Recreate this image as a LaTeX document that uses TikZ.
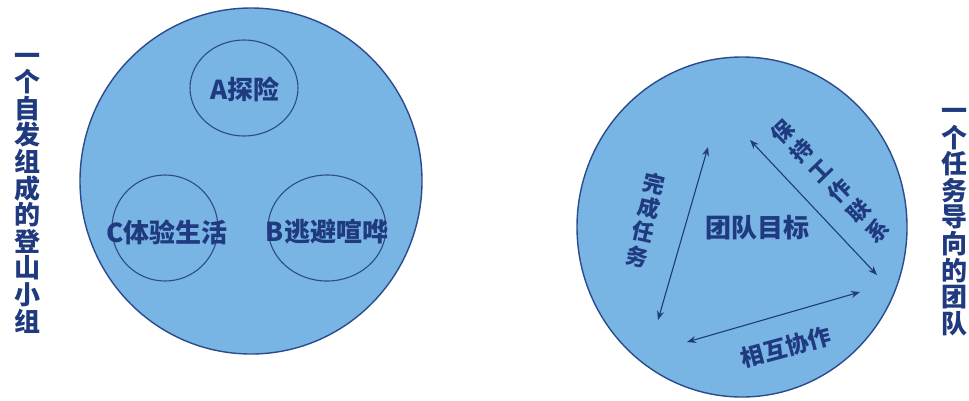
\documentclass[tikz,border=0pt]{standalone}
\usepackage{fontspec}
\setmainfont{Noto Sans CJK SC}
\usetikzlibrary{arrows.meta}
\definecolor{fillblue}{HTML}{78B4E4}
\definecolor{edgeblue}{HTML}{2B4C8C}
\definecolor{textnavy}{HTML}{1F3A7E}
\begin{document}
\begin{tikzpicture}[x=1pt,y=-1pt,
  bigcirc/.style={draw=edgeblue,line width=1.4pt,fill=fillblue},
  smallcirc/.style={draw=edgeblue,line width=1.1pt},
  lbl/.style={text=textnavy,font=\bfseries\fontsize{26}{30}\selectfont,inner sep=0pt},
  vlbl/.style={text=textnavy,align=center,inner sep=0pt},
  twoway/.style={draw=textnavy,line width=1.1pt,{Stealth[length=9pt,width=7pt]}-{Stealth[length=9pt,width=7pt]}}]
\useasboundingbox (0,0) rectangle (969,400);
% left group
\path[bigcirc] (251,181) ellipse [x radius=171, y radius=173];
\draw[smallcirc] (244,88) ellipse [x radius=54, y radius=48];
\draw[smallcirc] (165,228) ellipse [x radius=53, y radius=53];
\draw[smallcirc] (327,228) ellipse [x radius=59, y radius=53];
\node[lbl] (a) at (245,89) {A探险};
\node[lbl] (c) at (167,232) {C体验生活};
\node[lbl] (b) at (327,232) {B逃避喧哗};
\node[vlbl,font=\bfseries\fontsize{26}{26.6}\selectfont] (lt) at (27,193)
  {一\\个\\自\\发\\组\\成\\的\\登\\山\\小\\组};
% right group
\path[bigcirc] (742,227) ellipse [x radius=165, y radius=170];
\node[lbl] (goal) at (757,228) {团队目标};
\coordinate (l1) at (708,147);
\coordinate (l2) at (658,320);
\coordinate (r1) at (750,140);
\coordinate (r2) at (877,275);
\coordinate (b1) at (860,292);
\coordinate (b2) at (687,342);
\draw[twoway] (l1) -- (l2);
\draw[twoway] (r1) -- (r2);
\draw[twoway] (b1) -- (b2);
\node[vlbl,font=\bfseries\fontsize{22}{25}\selectfont,rotate=-13] (task) at (646,220)
  {完\\成\\任\\务};
\node[vlbl,font=\bfseries\fontsize{22}{27.5}\selectfont,rotate=44] (keep) at (830,181)
  {保\\持\\工\\作\\联\\系};
\node[vlbl,font=\bfseries\fontsize{23}{26}\selectfont,rotate=15] (coop) at (786,347)
  {相互协作};
\node[vlbl,font=\bfseries\fontsize{26}{26.6}\selectfont] (rt) at (954,222)
  {一\\个\\任\\务\\导\\向\\的\\团\\队};
\end{tikzpicture}
\end{document}
